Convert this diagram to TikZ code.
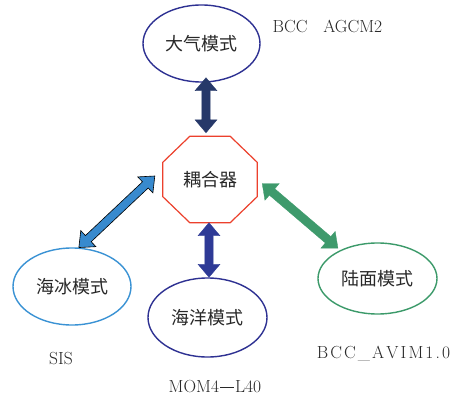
\documentclass[tikz,border=0pt]{standalone}
\usepackage{fontspec}
\newfontfamily\cjk{Noto Sans CJK SC}
\usetikzlibrary{shapes.geometric,calc}
\definecolor{atmline}{RGB}{46,49,146}
\definecolor{atmarrow}{RGB}{38,56,105}
\definecolor{ocnarrow}{RGB}{46,58,150}
\definecolor{iceline}{RGB}{58,146,212}
\definecolor{icearrow}{RGB}{56,138,206}
\definecolor{lndline}{RGB}{60,154,106}
\definecolor{lndarrow}{RGB}{62,154,108}
\definecolor{cplred}{RGB}{236,65,45}
\definecolor{txt}{RGB}{40,40,40}
\newcommand\fatarrow[3]{%
 \path (#2) coordinate (fa-a) (#3) coordinate (fa-b);
 \path ($(fa-a)!13pt!(fa-b)$) coordinate (fa-ha) ($(fa-b)!13pt!(fa-a)$) coordinate (fa-hb);
 \filldraw[#1] (fa-a) -- ($(fa-ha)!11pt!90:(fa-b)$) -- ($(fa-ha)!4.2pt!90:(fa-b)$)
   -- ($(fa-hb)!4.2pt!-90:(fa-a)$) -- ($(fa-hb)!11pt!-90:(fa-a)$) -- (fa-b)
   -- ($(fa-hb)!11pt!90:(fa-a)$) -- ($(fa-hb)!4.2pt!90:(fa-a)$)
   -- ($(fa-ha)!4.2pt!-90:(fa-b)$) -- ($(fa-ha)!11pt!-90:(fa-b)$) -- cycle;}
\newcommand\lsp{\kern2.1pt}
\begin{document}
\begin{tikzpicture}[x=1pt,y=-1pt,
  model/.style={ellipse,draw,line width=1.4pt,inner sep=0pt,text=txt,
    font=\cjk\fontsize{18}{20}\selectfont},
  lbl/.style={anchor=base,inner sep=0pt,text=txt,font=\fontsize{17.5}{20}\selectfont}]
\useasboundingbox[fill=white] (0,0) rectangle (461,396);
\node[model,draw=atmline,minimum width=117pt,minimum height=77pt] (atm) at (201.5,43.5) {大气模式};
\node[model,draw=iceline,minimum width=118pt,minimum height=77pt] (ice) at (72,286.5) {海冰模式};
\node[model,draw=atmline,minimum width=119pt,minimum height=79pt] (ocn) at (207.5,317.5) {海洋模式};
\node[model,draw=lndline,minimum width=119pt,minimum height=71pt] (lnd) at (377.5,278.5) {陆面模式};
\node[rectangle,inner sep=0pt,minimum width=94pt,minimum height=86pt,text=txt,
  font=\cjk\fontsize{18}{20}\selectfont] (cpl) at (210,179.5) {耦合器};
\draw[cplred,line width=1.2pt,line join=miter]
  ([xshift=27pt]cpl.north west) -- ([xshift=-27pt]cpl.north east)
  -- ([yshift=-26pt]cpl.north east) -- ([yshift=26pt]cpl.south east)
  -- ([xshift=-27pt]cpl.south east) -- ([xshift=27pt]cpl.south west)
  -- ([yshift=26pt]cpl.south west) -- ([yshift=-26pt]cpl.north west) -- cycle;
\node[lbl] (tatm) at (327.5,33) {BCC\hspace{0.9em}AGCM2};
\node[lbl] (tice) at (61,364) {SIS};
\node[lbl] (tlnd) at (383.5,358) {B\lsp C\lsp C\lsp\_\lsp A\lsp V\lsp I\lsp M\lsp 1\lsp .\lsp 0};
\node[lbl] (tocn) at (215,392) {MOM4\kern1pt\rule[0.25em]{0.8em}{0.06em}\kern1pt L40};
\fatarrow{atmarrow,draw=atmarrow,line width=0.3pt}{[xshift=4.5pt,yshift=5pt]atm.south}{[xshift=-4pt,yshift=3.5pt]cpl.north}
\fatarrow{ocnarrow,draw=ocnarrow,line width=0.3pt}{[xshift=-1pt]cpl.south}{[xshift=1.5pt]ocn.north}
\fatarrow{fill=icearrow,draw=black,line width=0.6pt}{ice.80}{[xshift=-8pt,yshift=3.5pt]cpl.west}
\fatarrow{lndarrow,draw=lndarrow,line width=0.3pt}{[xshift=5pt,yshift=-4pt]cpl.east}{[xshift=-2pt,yshift=2pt]lnd.143}
\end{tikzpicture}
\end{document}
